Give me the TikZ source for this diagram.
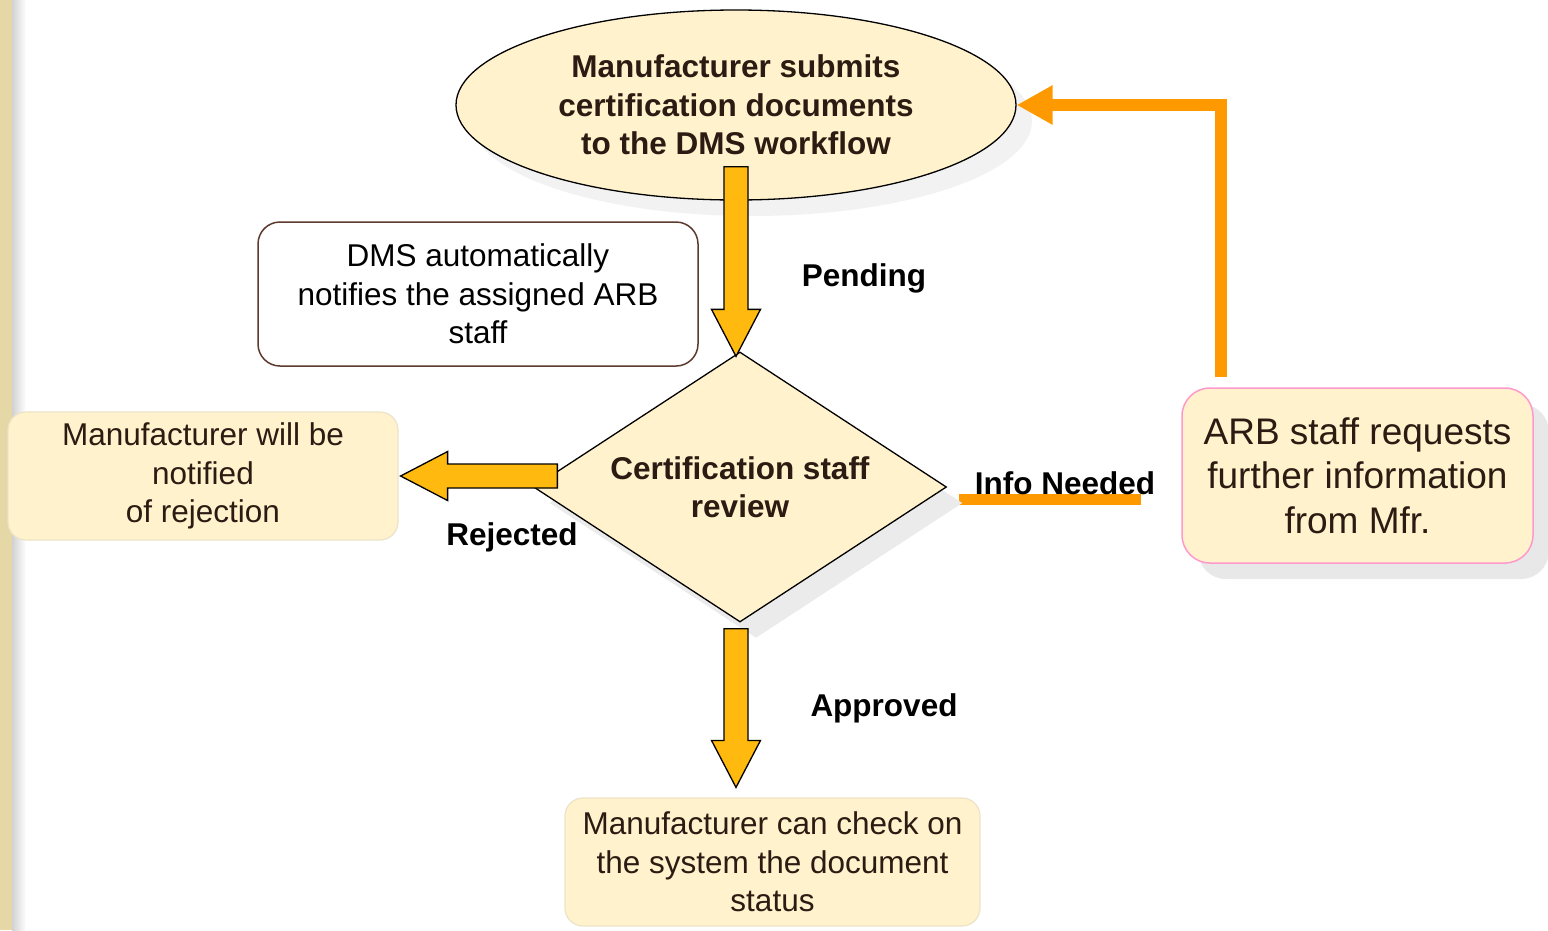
\documentclass[tikz,border=0pt]{standalone}
\usepackage{fontspec}
\setmainfont{Liberation Sans}
\usetikzlibrary{shapes.geometric,shadows,calc,backgrounds,arrows.meta}

\definecolor{cream}{HTML}{FFF2CC}
\definecolor{gold}{HTML}{FFB90F}
\definecolor{flowor}{HTML}{FF9900}
\definecolor{ink}{HTML}{2B1B12}
\definecolor{dmsline}{HTML}{5C3A2E}
\definecolor{pinkline}{HTML}{FF99CC}
\definecolor{sandline}{HTML}{EDE3C6}
\definecolor{strip}{HTML}{E6D7A6}

% fat outlined arrow from #1 to #2
\newcommand\blockarrow[2]{%
  \coordinate (head) at ($(#2)!47pt!(#1)$);
  \filldraw[blockarrow]
    ($(#1)!12pt!90:(#2)$) -- ($(head)!12pt!90:(#2)$) -- ($(head)!24.5pt!90:(#2)$) --
    (#2) -- ($(head)!24.5pt!-90:(#2)$) -- ($(head)!12pt!-90:(#2)$) --
    ($(#1)!12pt!-90:(#2)$) -- cycle;}

\begin{document}
\begin{tikzpicture}[x=1pt, y=-1pt]

  \tikzset{
    body/.style={
      font=\fontsize{31.5}{38.5}\selectfont,
      text=ink, align=center, inner sep=0pt,
    },
    strong/.style={
      font=\fontsize{31.5}{38.5}\selectfont\bfseries,
      text=ink, align=center, inner sep=0pt,
    },
    box/.style={
      body, rectangle, rounded corners=18pt,
      fill=cream, draw=sandline, line width=1.2pt,
    },
    soft shadow/.style={
      drop shadow={shadow xshift=16pt, shadow yshift=-16pt, opacity=1, fill=#1},
    },
    tag/.style={
      font=\fontsize{31.5}{38.5}\selectfont\bfseries,
      text=black, inner sep=0pt,
    },
    blockarrow/.style={
      fill=gold, draw=black, line width=1.3pt, line join=miter,
    },
    feedback/.style={
      draw=flowor, line width=12pt,
      -{Triangle[length=36pt,width=37pt]},
    },
    infoline/.style={
      draw=flowor, line width=11pt,
    },
  }

  \useasboundingbox (0,0) rectangle (1548,930);

  % shapes
  \node[ellipse, strong, fill=cream, draw=black, line width=1.3pt,
    minimum width=560pt, minimum height=190pt, soft shadow=black!5]
    (ell) at (736,105) {Manufacturer submits\\ certification documents\\ to the DMS workflow};

  \node[box, fill=white, draw=dmsline, line width=1.5pt, text=black,
    rounded corners=22pt, minimum width=440pt, minimum height=144pt]
    (dms) at (478,294) {DMS automatically\\ notifies the assigned ARB\\ staff};

  \node[diamond, strong, fill=cream, draw=black, line width=1.3pt, aspect=1.53,
    minimum width=413pt, minimum height=270pt, soft shadow=black!8]
    (dia) at (740,487) {Certification staff\\ review};

  \node[box, minimum width=390pt, minimum height=128pt]
    (rej) at (203,476) {Manufacturer will be\\ notified\\ of rejection};

  \node[box, minimum width=415pt, minimum height=128pt]
    (chk) at (772.5,862) {Manufacturer can check on\\ the system the document\\ status};

  \node[box, draw=pinkline, line width=1.5pt, rounded corners=28pt,
    font=\fontsize{37}{44.5}\selectfont,
    minimum width=351pt, minimum height=175pt, soft shadow=black!9]
    (req) at (1357.5,475.5) {ARB staff requests\\ further information\\ from Mfr.};

  \begin{scope}[on background layer]
    \fill[white] (0,0) rectangle (1548,930);
    \fill[strip] (0,0) rectangle (12,930);
    \shade[left color=black!18, right color=white] (12,0) rectangle (26,930);
    \draw[infoline] ([xshift=-40pt,yshift=-23.5pt]req.west) -- ([xshift=12pt,yshift=-12pt]dia.east);
  \end{scope}

  % arrows
  \coordinate (pend-a) at ([yshift=34pt]ell.south);
  \coordinate (pend-b) at ([xshift=-4pt,yshift=-5pt]dia.north);
  \coordinate (rej-a) at ([xshift=24.5pt,yshift=11pt]dia.west);
  \coordinate (rej-b) at ([xshift=2pt]rej.east);
  \coordinate (app-a) at ([xshift=-4pt,yshift=-6pt]dia.south);
  \coordinate (app-b) at ([xshift=-36.5pt,yshift=10pt]chk.north);

  \foreach \a/\b in {pend-a/pend-b, rej-a/rej-b, app-a/app-b} {
    \blockarrow{\a}{\b}
  }

  \draw[feedback] ([xshift=40pt,yshift=10pt]req.north west) |- (ell.east);

  % labels
  \node[tag] (pending) at (864,278) {Pending};
  \node[tag] (rejected) at (512,537) {Rejected};
  \node[tag] (approved) at (884,708) {Approved};
  \node[tag] (info) at (1065,483) {Info Needed};

\end{tikzpicture}
\end{document}
